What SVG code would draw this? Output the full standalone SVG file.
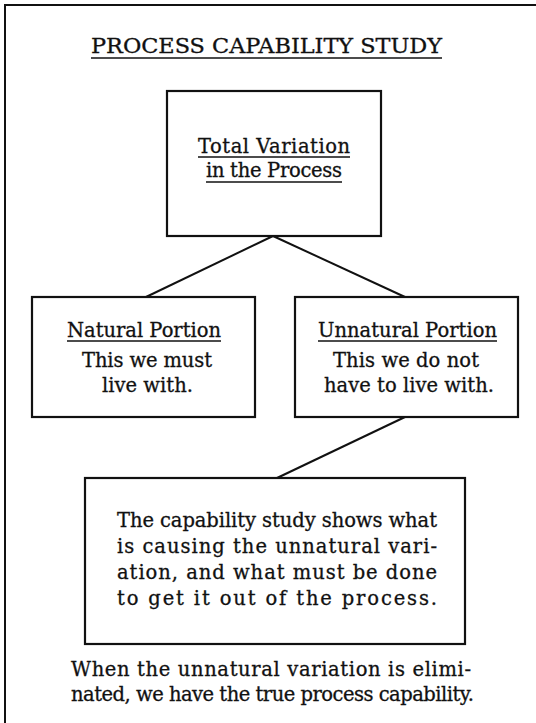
<svg xmlns="http://www.w3.org/2000/svg" width="536" height="723" viewBox="0 0 536 723">
<style>
.box{fill:none;stroke:#111;stroke-width:2.2}
.ln{stroke:#111;stroke-width:2;fill:none}
.ul{stroke:#111;stroke-width:1.6}
text{font-family:"DejaVu Serif","Liberation Serif",serif;font-size:19.5px;fill:#111;stroke:#111;stroke-width:0.3}
</style>
<rect width="536" height="723" fill="#fff"/>
<g id="frame">
<path class="ln" d="M5,723 V5 H536"/>
</g>
<g id="title">
<text x="91" y="53" textLength="351" lengthAdjust="spacingAndGlyphs" style="font-size:19.5px">PROCESS  CAPABILITY  STUDY</text>
<line class="ul" x1="91" y1="58" x2="442" y2="58"/>
</g>
<g id="connectors">
<line class="ln" x1="273" y1="236" x2="146" y2="297"/>
<line class="ln" x1="273" y1="236" x2="405" y2="297"/>
<line class="ln" x1="405" y1="417" x2="277" y2="478"/>
</g>
<g id="total">
<rect class="box" x="167" y="91" width="214" height="145"/>
<text x="198" y="153" textLength="152">Total Variation</text>
<line class="ul" x1="198" y1="157" x2="350" y2="157"/>
<text x="206" y="177" textLength="136">in the Process</text>
<line class="ul" x1="206" y1="182" x2="342" y2="182"/>
</g>
<g id="natural">
<rect class="box" x="32" y="297" width="223" height="120"/>
<text x="67" y="337" textLength="154">Natural Portion</text>
<line class="ul" x1="67" y1="341" x2="221" y2="341"/>
<text x="82" y="367" textLength="130">This we must</text>
<text x="102" y="392" textLength="91">live with.</text>
</g>
<g id="unnatural">
<rect class="box" x="295" y="297" width="223" height="120"/>
<text x="318" y="337" textLength="179">Unnatural Portion</text>
<line class="ul" x1="318" y1="341" x2="497" y2="341"/>
<text x="333" y="367" textLength="146">This we do not</text>
<text x="324" y="392" textLength="170">have to live with.</text>
</g>
<g id="study">
<rect class="box" x="85" y="478" width="380" height="166"/>
<text x="117" y="527" textLength="320">The capability study shows what</text>
<text x="117" y="553" textLength="320">is causing the unnatural vari-</text>
<text x="117" y="579" textLength="320">ation, and what must be done</text>
<text x="117" y="605" textLength="320">to get it out of the process.</text>
</g>
<g id="note">
<text x="71" y="676" textLength="400">When the unnatural variation is elimi-</text>
<text x="71" y="701" textLength="403">nated, we have the true process capability.</text>
</g>
</svg>
